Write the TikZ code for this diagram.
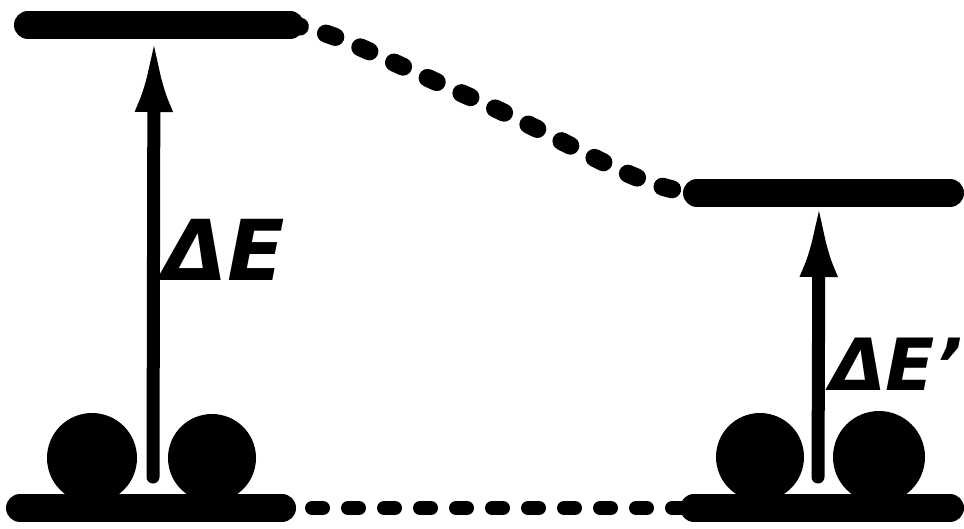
\documentclass[tikz,border=0pt]{standalone}
\usepackage{fontspec}
\newfontfamily\lblfont{DejaVu Sans}
\usetikzlibrary{arrows.meta,calc}
\begin{document}
\begin{tikzpicture}[x=1pt,y=-1pt,
  level/.style={line width=28pt,line cap=round},
  toplink/.style={line width=18pt,line cap=round,dash pattern=on 10pt off 27pt},
  botlink/.style={line width=14pt,line cap=round,dash pattern=on 11pt off 25pt},
  excite/.style={line width=13pt,line cap=round,-{Latex[length=76pt,width=38pt]}},
  electron/.style={fill=black},
  lbl/.style={inner sep=0pt,font=\lblfont\bfseries\itshape\fontsize{84}{84}\selectfont},
  lblsmall/.style={inner sep=0pt,font=\lblfont\bfseries\itshape\fontsize{72}{72}\selectfont}]
\useasboundingbox (0,0) rectangle (964,528);
% level end points
\coordinate (TLa) at (28,25);
\coordinate (TLb) at (290,25);
\coordinate (TRa) at (697,193);
\coordinate (TRb) at (950,193);
\coordinate (BLa) at (20,508);
\coordinate (BLb) at (282,508);
\coordinate (BRa) at (694,508);
\coordinate (BRb) at (950,508);
% levels
\draw[level] (TLa) -- (TLb);
\draw[level] (TRa) -- (TRb);
\draw[level] (BLa) -- (BLb);
\draw[level] (BRa) -- (BRb);
% connecting dashed lines
\draw[toplink] (TLb) .. controls (330,30) and (360,48) .. (470,97) .. controls (580,146) and (640,190) .. (TRa);
\draw[botlink] ($(BLb)+(30,0)$) -- (BRa);
% electrons
\fill[electron] (92,458) circle[radius=45pt];
\fill[electron] (212,458) circle[radius=44pt];
\fill[electron] (760,457) circle[radius=44pt];
\fill[electron] (879,457) circle[radius=46pt];
% excitation arrows
\coordinate (AL0) at (153,477);
\coordinate (AL1) at (154,36);
\coordinate (AR0) at (818,477);
\coordinate (AR1) at (819,201);
\draw[excite] (AL0) -- (AL1);
\draw[excite] (AR0) -- (AR1);
% labels
\node[lbl,anchor=base west] (dE) at (162,280) {ΔE};
\node[lblsmall,anchor=base west] (dEp) at (830,390) {ΔE’};
\end{tikzpicture}
\end{document}
